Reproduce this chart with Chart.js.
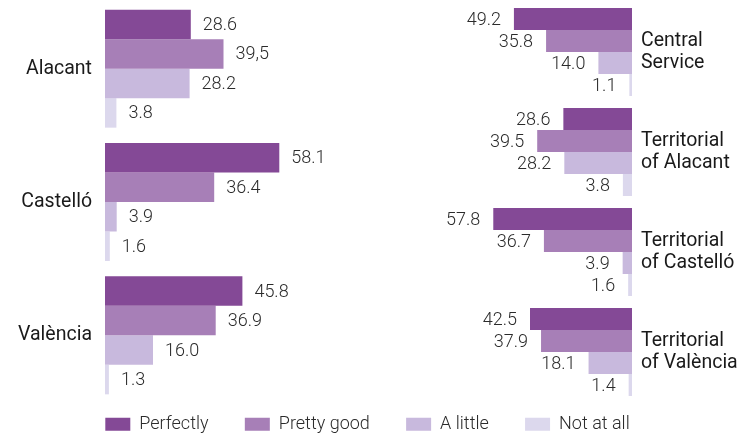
<!DOCTYPE html>
<html>
<head>
<meta charset="utf-8">
<script src="https://cdn.jsdelivr.net/npm/chart.js@4/dist/chart.umd.min.js"></script>
<style>
  html, body { margin: 0; padding: 0; background: #ffffff; overflow: hidden; width: 745px; height: 438px; }
  #wrap { position: relative; width: 745px; height: 438px; }
  #left { position: absolute; left: 0; top: 0; }
  #right { position: absolute; left: 360px; top: 0; }
  #legend { position: absolute; left: 0; top: 378.7px; }
</style>
</head>
<body>
<div id="wrap">
  <canvas id="left" width="360" height="404"></canvas>
  <canvas id="right" width="385" height="404"></canvas>
  <canvas id="legend" width="745" height="140"></canvas>
</div>
<script>
// ---- data ----
const seriesNames = ['Perfectly', 'Pretty good', 'A little', 'Not at all'];
const seriesColors = ['#844996', '#a77fb7', '#c8b9dd', '#dcd8ed'];

const categoriesLeft = ['Alacant', 'Castelló', 'València'];
const perfectlyLeft  = [28.6, 58.1, 45.8];
const prettyGoodLeft = [39.5, 36.4, 36.9];
const aLittleLeft    = [28.2, 3.9, 16.0];
const notAtAllLeft   = [3.8, 1.6, 1.3];

const categoriesRight = [
  ['Central', 'Service'],
  ['Territorial', 'of Alacant'],
  ['Territorial', 'of Castelló'],
  ['Territorial', 'of València']
];
const perfectlyRight  = [49.2, 28.6, 57.8, 42.5];
const prettyGoodRight = [35.8, 39.5, 36.7, 37.9];
const aLittleRight    = [14.0, 28.2, 3.9, 18.1];
const notAtAllRight   = [1.1, 3.8, 1.6, 1.4];

// value printed with a decimal comma in the original
const decimalCommaCells = ['Alacant|Pretty good'];

// ---- charts ----
const FONT = 'Roboto';
const leftSeries = [perfectlyLeft, prettyGoodLeft, aLittleLeft, notAtAllLeft];
const rightSeries = [perfectlyRight, prettyGoodRight, aLittleRight, notAtAllRight];

function makeDatasets(series, catPct) {
  return series.map((arr, i) => ({
    label: seriesNames[i], data: arr,
    backgroundColor: seriesColors[i], borderWidth: 0,
    categoryPercentage: catPct, barPercentage: 1
  }));
}

function valueLabels(side, cats) {
  return {
    id: 'valueLabels',
    afterDatasetsDraw(chart) {
      const ctx = chart.ctx;
      ctx.save();
      ctx.font = '300 18px ' + FONT;
      ctx.fillStyle = '#2b2b2b';
      ctx.textBaseline = 'middle';
      chart.data.datasets.forEach((ds, di) => {
        chart.getDatasetMeta(di).data.forEach((bar, j) => {
          let txt = ds.data[j].toFixed(1);
          const catName = [].concat(cats[j]).join(' ');
          if (side === 'L' && decimalCommaCells.includes(catName + '|' + ds.label)) {
            txt = txt.replace('.', ',');
          }
          if (side === 'L') {
            ctx.textAlign = 'left';
            ctx.fillText(txt, bar.x + 12, bar.y + 1);
          } else {
            ctx.textAlign = 'right';
            ctx.fillText(txt, bar.x - 13, bar.y + 1);
          }
        });
      });
      ctx.restore();
    }
  };
}

function catAxis(labels, position, pad, width) {
  return {
    type: 'category', labels, position,
    grid: { display: false, drawTicks: false }, border: { display: false },
    ticks: {
      autoSkip: false, padding: pad, color: '#1a1a1a',
      font: { family: FONT, size: 19.5, weight: '400', lineHeight: 1.13 }
    },
    afterFit(scale) { scale.width = width; scale.paddingTop = 0; scale.paddingBottom = 0; }
  };
}

new Chart(document.getElementById('left'), {
  type: 'bar',
  data: { labels: categoriesLeft, datasets: makeDatasets(leftSeries, 0.885) },
  options: {
    indexAxis: 'y', responsive: false, animation: false, events: [],
    layout: { padding: { top: 2, bottom: 2, left: 0, right: 0 } },
    plugins: { legend: { display: false }, tooltip: { enabled: false } },
    scales: {
      x: { type: 'linear', min: 0, max: 255 / 3, display: false },
      y: catAxis(categoriesLeft, 'left', 13, 105)
    }
  },
  plugins: [valueLabels('L', categoriesLeft)]
});

new Chart(document.getElementById('right'), {
  type: 'bar',
  data: { labels: categoriesRight, datasets: makeDatasets(rightSeries, 0.88) },
  options: {
    indexAxis: 'y', responsive: false, animation: false, events: [],
    layout: { padding: { top: 2, bottom: 2, left: 0, right: 0 } },
    plugins: { legend: { display: false }, tooltip: { enabled: false } },
    scales: {
      x: { type: 'linear', min: 0, max: 272 / 2.4, reverse: true, display: false },
      y: catAxis(categoriesRight, 'right', 9, 113)
    }
  },
  plugins: [valueLabels('R', categoriesRight)]
});

new Chart(document.getElementById('legend'), {
  type: 'bar',
  data: { labels: [], datasets: seriesNames.map((n, i) => ({ label: n, data: [], backgroundColor: seriesColors[i] })) },
  options: {
    responsive: false, animation: false, events: [],
    layout: { padding: { right: 10 } },
    scales: { x: { display: false }, y: { display: false } },
    plugins: {
      tooltip: { enabled: false },
      legend: {
        position: 'top',
        labels: {
          boxWidth: 25, boxHeight: 13, padding: 36.3, color: '#2b2b2b',
          font: { family: FONT, size: 18, weight: '300' }
        }
      }
    }
  }
});
</script>
</body>
</html>
